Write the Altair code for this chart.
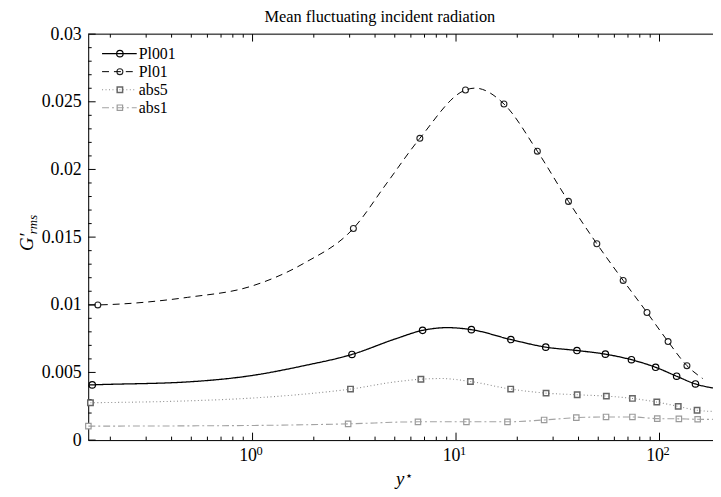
import altair as alt
import pandas as pd

# ---------------- data ----------------
series_names = ["Pl001", "Pl01", "abs5", "abs1"]

# marker positions
pl001_mx = [0.163, 3.08, 6.85, 11.9, 18.6, 27.6, 39.3, 54.2, 72.8, 95.7, 121.4, 150.2]
pl001_my = [0.00408, 0.00633, 0.00811, 0.00816, 0.00743, 0.00687, 0.00662, 0.00635, 0.00594, 0.00538, 0.00472, 0.00415]
pl01_mx = [0.1736, 3.13, 6.64, 11.13, 17.2, 25.1, 35.7, 49.2, 66.3, 86.8, 110.2, 136.4]
pl01_my = [0.00999, 0.01564, 0.0223, 0.02587, 0.02484, 0.02135, 0.01764, 0.01451, 0.0118, 0.00943, 0.00728, 0.0055]
abs5_mx = [0.1597, 3.03, 6.72, 11.77, 18.56, 27.7, 39.4, 54.8, 73.6, 97.0, 123.6, 153.0]
abs5_my = [0.00276, 0.00377, 0.0045, 0.00433, 0.00377, 0.00347, 0.00335, 0.00325, 0.00308, 0.00281, 0.00249, 0.0022]
abs1_mx = [0.156, 2.95, 6.5, 11.25, 17.9, 27.1, 39.0, 54.6, 73.6, 97.5, 124.5, 154.0]
abs1_my = [0.00103, 0.0012, 0.00135, 0.00135, 0.00135, 0.00149, 0.00166, 0.00171, 0.00171, 0.00159, 0.00157, 0.00154]

# curve points (markers plus extra points)
pl001_lx = [0.157, 0.163, 0.48, 0.98, 1.79, 3.08, 5.08, 6.85, 9.06, 11.9, 18.6, 27.6, 39.3, 54.2, 72.8, 95.7, 121.4, 150.2, 183.0]
pl001_ly = [0.00407, 0.00408, 0.0043, 0.00476, 0.0055, 0.00633, 0.0075, 0.00811, 0.00831, 0.00816, 0.00743, 0.00687, 0.00662, 0.00635, 0.00594, 0.00538, 0.00472, 0.00415, 0.00385]
pl01_lx = [0.157, 0.1736, 0.48, 0.98, 1.79, 3.13, 4.54, 6.64, 11.13, 12.4, 17.2, 25.1, 35.7, 49.2, 66.3, 86.8, 110.2, 136.4, 163.0]
pl01_ly = [0.00998, 0.00999, 0.01055, 0.01136, 0.01307, 0.01564, 0.01893, 0.0223, 0.02587, 0.02601, 0.02484, 0.02135, 0.01764, 0.01451, 0.0118, 0.00943, 0.00728, 0.0055, 0.00455]
abs5_lx = [0.1597, 0.48, 0.98, 1.8, 3.03, 5.0, 6.72, 8.5, 11.77, 18.56, 27.7, 39.4, 54.8, 73.6, 97.0, 123.6, 153.0, 183.0]
abs5_ly = [0.00276, 0.0029, 0.0031, 0.0034, 0.00377, 0.0043, 0.0045, 0.00455, 0.00433, 0.00377, 0.00347, 0.00335, 0.00325, 0.00308, 0.00281, 0.00249, 0.0022, 0.00212]
abs1_lx = [0.156, 0.98, 2.95, 6.5, 11.25, 17.9, 27.1, 39.0, 54.6, 73.6, 97.5, 124.5, 154.0, 183.0]
abs1_ly = [0.00103, 0.00108, 0.0012, 0.00135, 0.00135, 0.00135, 0.00149, 0.00166, 0.00171, 0.00171, 0.00159, 0.00157, 0.00154, 0.00153]

# tick values and labels
x_major = [1, 10, 100]
x_major_base = ["10", "10", "10"]
x_major_exp = ["0", "1", "2"]
x_minor = [0.2, 0.3, 0.4, 0.5, 0.6, 0.7, 0.8, 0.9,
           2, 3, 4, 5, 6, 7, 8, 9,
           20, 30, 40, 50, 60, 70, 80, 90]
y_major = [0, 0.005, 0.01, 0.015, 0.02, 0.025, 0.03]
y_minor = [i / 1000 for i in range(1, 30) if i % 5 != 0]

# ---------------- layout / style ----------------
W, H = 631, 410
FONT = "Liberation Serif, DejaVu Serif, serif"

xs = alt.Scale(type="log", domain=[0.1557, 183.2], nice=False)
ys = alt.Scale(domain=[0, 0.03], nice=False, zero=False)

x_axis = alt.Axis(values=x_major, ticks=False, grid=False, domain=True,
                  domainColor="black", domainWidth=1, title=None, labels=False)
y_axis = alt.Axis(values=y_major, ticks=False, grid=False, domain=True,
                  domainColor="black", domainWidth=1, title=None,
                  labelFont=FONT, labelFontSize=18, labelColor="black",
                  labelPadding=7, format="~f")


def X(field="x"):
    return alt.X(f"{field}:Q", scale=xs, axis=x_axis)


def Y(field="y"):
    return alt.Y(f"{field}:Q", scale=ys, axis=y_axis)


styles = {
    "Pl001": dict(color="black", dash=[1, 0], width=1.3, shape="circle",
                  mstroke="black", msize=42, mwidth=1.2),
    "Pl01": dict(color="black", dash=[7, 5], width=1.0, shape="circle",
                 mstroke="#222222", msize=36, mwidth=1.1),
    "abs5": dict(color="#8a8a8a", dash=[1, 2.5], width=1.1, shape="square",
                 mstroke="#666666", msize=30, mwidth=1.5),
    "abs1": dict(color="#a3a3a3", dash=[7, 3, 2, 3], width=1.1, shape="square",
                 mstroke="#9a9a9a", msize=30, mwidth=1.2),
}

marker_data = {
    "Pl001": (pl001_mx, pl001_my),
    "Pl01": (pl01_mx, pl01_my),
    "abs5": (abs5_mx, abs5_my),
    "abs1": (abs1_mx, abs1_my),
}
line_data = {
    "Pl001": (pl001_lx, pl001_ly),
    "Pl01": (pl01_lx, pl01_ly),
    "abs5": (abs5_lx, abs5_ly),
    "abs1": (abs1_lx, abs1_ly),
}

layers = []

# frame top line
layers.append(alt.Chart(pd.DataFrame({"a": [0]})).mark_rule(color="black", strokeWidth=1)
              .encode(x=alt.value(0), x2=alt.value(W), y=alt.value(0)))

# ticks (inward), bottom & top & left
def xticks(vals, length):
    df = pd.DataFrame({"x": vals})
    bot = alt.Chart(df).mark_rule(color="black", strokeWidth=1).encode(
        x=X(), y=alt.value(H), y2=alt.value(H - length))
    top = alt.Chart(df).mark_rule(color="black", strokeWidth=1).encode(
        x=X(), y=alt.value(0), y2=alt.value(length))
    return [bot, top]


def yticks(vals, length):
    df = pd.DataFrame({"y": vals})
    return [alt.Chart(df).mark_rule(color="black", strokeWidth=1).encode(
        y=Y(), x=alt.value(0), x2=alt.value(length))]


layers += xticks(x_major, 7.5)
layers += xticks(x_minor, 3.5)
layers += yticks(y_major, 7.5)
layers += yticks(y_minor, 3.5)

# x tick labels 10^n
lab_df = pd.DataFrame({"x": x_major, "base": x_major_base, "exp": x_major_exp})
layers.append(alt.Chart(lab_df).mark_text(font=FONT, fontSize=18, color="black",
                                          align="center", baseline="alphabetic", dx=-4.5)
              .encode(x=X(), y=alt.value(H + 21.5), text="base:N"))
layers.append(alt.Chart(lab_df).mark_text(font=FONT, fontSize=12.5, color="black",
                                          align="left", baseline="alphabetic", dx=4)
              .encode(x=X(), y=alt.value(H + 15.5), text="exp:N"))

# markers first, curves on top
for name in series_names:
    s = styles[name]
    mx, my = marker_data[name]
    df = pd.DataFrame({"x": mx, "y": my})
    layers.append(alt.Chart(df).mark_point(shape=s["shape"], size=s["msize"], filled=True,
                                           fill="white", stroke=s["mstroke"],
                                           strokeWidth=s["mwidth"], opacity=1)
                  .encode(x=X(), y=Y()))

for name in series_names:
    s = styles[name]
    lx, ly = line_data[name]
    df = pd.DataFrame({"x": lx, "y": ly})
    layers.append(alt.Chart(df).mark_line(color=s["color"], strokeDash=s["dash"],
                                          strokeWidth=s["width"], interpolate="monotone")
                  .encode(x=X(), y=Y()))

# legend (upper left, inside)
one = pd.DataFrame({"a": [0]})
for i, name in enumerate(series_names):
    s = styles[name]
    yy = 19.7 + 18.2 * i
    layers.append(alt.Chart(one).mark_point(shape=s["shape"], size=s["msize"], filled=True,
                                            fill="white", stroke=s["mstroke"],
                                            strokeWidth=s["mwidth"], opacity=1)
                  .encode(x=alt.value(32), y=alt.value(yy)))
    layers.append(alt.Chart(one).mark_rule(color=s["color"], strokeDash=s["dash"],
                                           strokeWidth=s["width"])
                  .encode(x=alt.value(14), x2=alt.value(49), y=alt.value(yy)))
    layers.append(alt.Chart(one).mark_text(text=name, font=FONT, fontSize=16, color="black",
                                           align="left", baseline="middle")
                  .encode(x=alt.value(51), y=alt.value(yy + 0.5)))

# title
layers.append(alt.Chart(one).mark_text(text="Mean fluctuating incident radiation", font=FONT,
                                       fontSize=16.5, color="black", align="left",
                                       baseline="alphabetic")
              .encode(x=alt.value(178), y=alt.value(-12)))

# x axis title  y*
layers.append(alt.Chart(one).mark_text(text="y", font=FONT, fontSize=19, fontStyle="italic",
                                       color="black", align="center", baseline="alphabetic")
              .encode(x=alt.value(315), y=alt.value(455)))
layers.append(alt.Chart(one).mark_text(text="⋆", font="DejaVu Sans", fontSize=13,
                                       color="black", align="center", baseline="middle")
              .encode(x=alt.value(324), y=alt.value(446)))

# y axis title  G'rms
layers.append(alt.Chart(one).mark_text(text="G′", font=FONT, fontSize=19, fontStyle="italic",
                                       color="black", align="left", baseline="alphabetic",
                                       angle=270)
              .encode(x=alt.value(-56), y=alt.value(219)))
layers.append(alt.Chart(one).mark_text(text="rms", font=FONT, fontSize=13, fontStyle="italic",
                                       color="black", align="left", baseline="alphabetic",
                                       angle=270)
              .encode(x=alt.value(-52), y=alt.value(202)))

chart = alt.layer(*layers).properties(
    width=W, height=H,
    autosize=alt.AutoSizeParams(type="none"),
    padding={"left": 81, "top": 24, "right": 0, "bottom": 47},
).configure_view(stroke=None).configure(background="white")

chart.save("out.html", embed_options={"renderer": "svg", "actions": False})
